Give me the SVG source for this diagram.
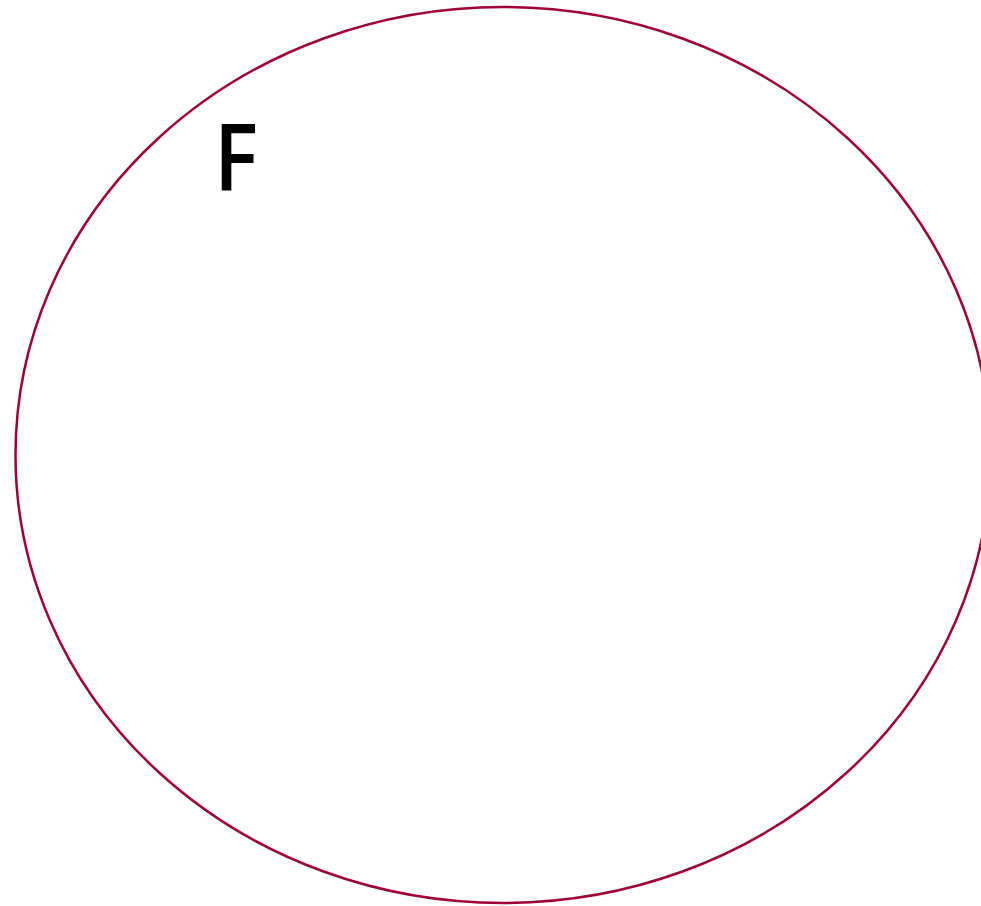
<svg xmlns="http://www.w3.org/2000/svg" width="981" height="906" viewBox="0 0 981 906">
<style>
.set{fill:none;stroke:#a0003a;stroke-width:2.5}
.lbl{font-family:"Open Sans","Liberation Sans",sans-serif;font-size:92px;font-weight:600;fill:#000}
</style>
<rect width="981" height="906" fill="#fff"/>
<g id="setF">
<ellipse class="set" cx="503" cy="455" rx="487.5" ry="448"/>
<text class="lbl" x="214" y="190" textLength="44" lengthAdjust="spacingAndGlyphs">F</text>
</g>
</svg>
